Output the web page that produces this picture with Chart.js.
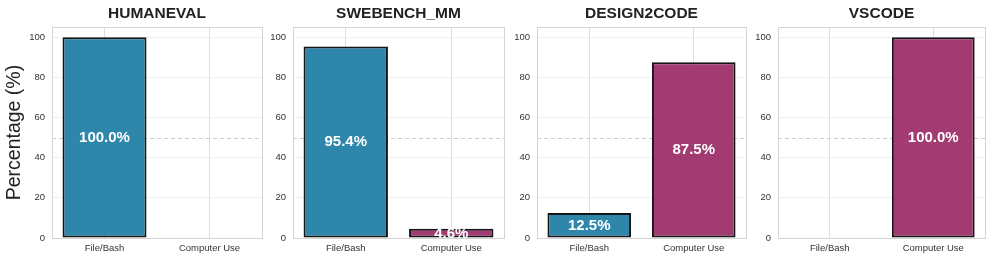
<!DOCTYPE html>
<html>
<head>
<meta charset="utf-8">
<script src="https://cdn.jsdelivr.net/npm/chart.js@4.4.0/dist/chart.umd.min.js"></script>
<style>
    html, body { margin: 0; padding: 0; background: #ffffff; }
    #wrap { position: relative; width: 996px; height: 260px; overflow: hidden; }
    #wrap canvas { position: absolute; top: 0; }
</style>
</head>
<body>
<div id="wrap"></div>
<script>
/* ============================================
   DATA
   ============================================ */

const benchmarks = ['HUMANEVAL', 'SWEBENCH_MM', 'DESIGN2CODE', 'VSCODE'];
const categories = ['File/Bash', 'Computer Use'];
const fileBashPct = [100.0, 95.4, 12.5, 0.0];
const computerUsePct = [0.0, 4.6, 87.5, 100.0];
const yTickValues = [0, 20, 40, 60, 80, 100];

const BAR_COLORS = ['#2E86AB', '#A23B72'];

// canvas left / width, y axis width, right padding for each panel
const PANELS = [
    { left: 0,   width: 266, axisWidth: 52, padRight: 4 },
    { left: 266, width: 242, axisWidth: 27, padRight: 4 },
    { left: 508, width: 242, axisWidth: 29, padRight: 4 },
    { left: 750, width: 246, axisWidth: 28, padRight: 11 }
];

Chart.defaults.font.family = "'Liberation Sans', Arial, sans-serif";
Chart.defaults.color = '#333333';

// ============================================
// PLUGINS
// ============================================

// axis box + dashed 50% line, behind the bars
const boxPlugin = {
    id: 'boxPlugin',
    beforeDatasetsDraw(chart) {
        const { ctx, chartArea: a } = chart;
        const y50 = chart.scales.y.getPixelForValue(50);
        ctx.save();
        ctx.strokeStyle = '#cccccc';
        ctx.lineWidth = 1;
        ctx.setLineDash([4, 3]);
        ctx.beginPath();
        ctx.moveTo(a.left, Math.round(y50) + 0.5);
        ctx.lineTo(a.right, Math.round(y50) + 0.5);
        ctx.stroke();
        ctx.setLineDash([]);
        ctx.strokeStyle = '#d4d4d4';
        ctx.strokeRect(Math.round(a.left) + 0.5, Math.round(a.top) + 0.5,
            Math.round(a.right - a.left), Math.round(a.bottom - a.top));
        ctx.restore();
    }
};

// percentage labels in the middle of each bar
const valueLabels = {
    id: 'valueLabels',
    afterDatasetsDraw(chart) {
        const { ctx, chartArea: a } = chart;
        const meta = chart.getDatasetMeta(0);
        const values = chart.data.datasets[0].data;
        ctx.save();
        ctx.beginPath();
        ctx.rect(a.left, a.top, a.right - a.left, a.bottom - a.top);
        ctx.clip();
        ctx.fillStyle = '#ffffff';
        ctx.font = "bold 15px 'Liberation Sans', Arial, sans-serif";
        ctx.textAlign = 'center';
        ctx.textBaseline = 'middle';
        meta.data.forEach((bar, i) => {
            const v = values[i];
            if (v <= 0) return;
            const y = chart.scales.y.getPixelForValue(v / 2);
            ctx.fillText(v.toFixed(1) + '%', bar.x, y);
        });
        ctx.restore();
    }
};

// ============================================
// RENDER
// ============================================

function renderPanel(index) {
    const panel = PANELS[index];
    const canvas = document.createElement('canvas');
    canvas.width = panel.width;
    canvas.height = 260;
    canvas.style.left = panel.left + 'px';
    canvas.style.width = panel.width + 'px';
    canvas.style.height = '260px';
    document.getElementById('wrap').appendChild(canvas);

    new Chart(canvas, {
        type: 'bar',
        data: {
            labels: categories,
            datasets: [{
                data: [fileBashPct[index], computerUsePct[index]],
                backgroundColor: BAR_COLORS,
                borderColor: '#151515',
                borderWidth: 2,
                borderSkipped: false,
                barPercentage: 0.8,
                categoryPercentage: 1.0
            }]
        },
        options: {
            responsive: false,
            animation: false,
            layout: { padding: { left: 0, right: panel.padRight, top: 0, bottom: 0 } },
            plugins: {
                legend: { display: false },
                tooltip: { enabled: false },
                title: {
                    display: true,
                    text: benchmarks[index],
                    fullSize: false,
                    color: '#222222',
                    font: { size: 15.5, weight: 'bold' },
                    padding: { top: 4, bottom: 4.5 }
                }
            },
            scales: {
                x: {
                    offset: true,
                    grid: { offset: false, color: '#dedede', drawTicks: false },
                    border: { display: false },
                    ticks: { font: { size: 9.5 }, color: '#333333', padding: 5 },
                    afterFit: (scale) => { scale.height = 22; }
                },
                y: {
                    min: 0,
                    max: 105,
                    grid: { color: '#efefef', drawTicks: false },
                    border: { display: false },
                    ticks: { font: { size: 9.5 }, color: '#333333', padding: 7 },
                    afterBuildTicks: (scale) => {
                        scale.ticks = yTickValues.map(v => ({ value: v }));
                    },
                    afterFit: (scale) => { scale.width = panel.axisWidth; },
                    title: {
                        display: index === 0,
                        text: 'Percentage (%)',
                        color: '#222222',
                        font: { size: 19.5 },
                        padding: { top: 3, bottom: 3 }
                    }
                }
            }
        },
        plugins: [boxPlugin, valueLabels]
    });
}

benchmarks.forEach((name, i) => renderPanel(i));
</script>
</body>
</html>
